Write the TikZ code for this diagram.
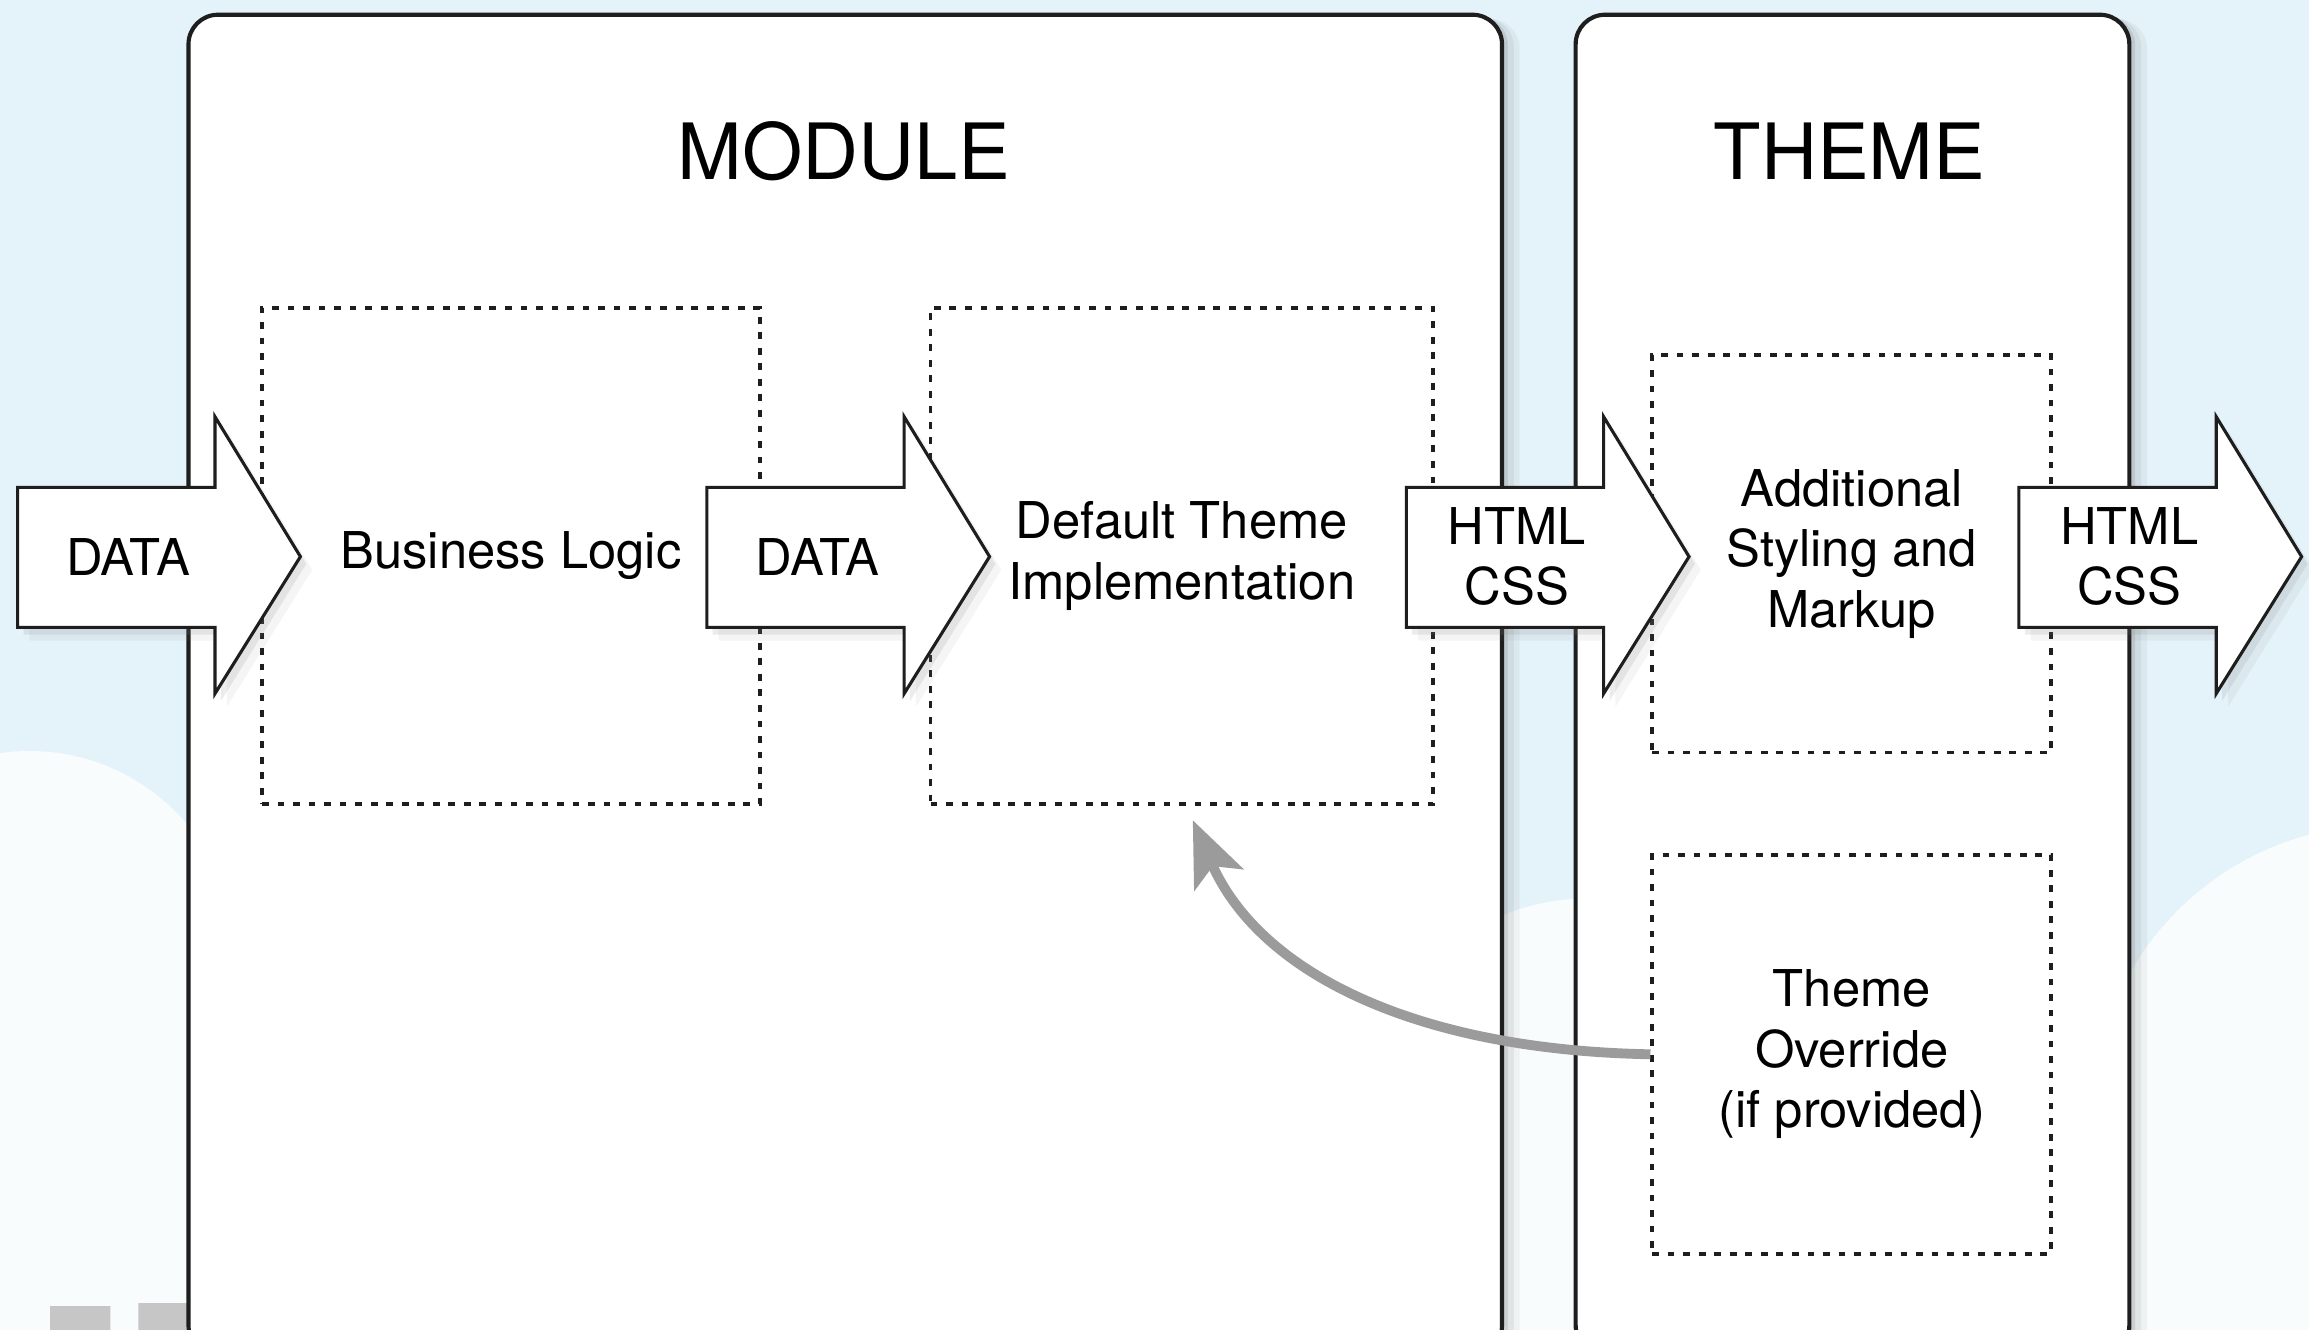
\documentclass[tikz,border=0pt]{standalone}
\usepackage{fontspec}
\setmainfont{TeX Gyre Heros}
\usetikzlibrary{positioning,shadows,arrows.meta}
\definecolor{sky}{RGB}{227,243,249}
\definecolor{cloud}{RGB}{249,252,253}
\definecolor{edge}{RGB}{30,30,30}
\definecolor{curve}{RGB}{155,155,155}
\newcommand{\bodyfont}{\fontsize{9.8}{11.7}\selectfont}
\newcommand{\titlefont}{\fontsize{15}{18}\selectfont}
\tikzset{panel/.style={draw=edge,line width=0.8pt,rounded corners=2mm,fill=white,
    drop shadow={shadow xshift=1.2mm,shadow yshift=-0.3mm,opacity=0.08},
    drop shadow={shadow xshift=0.8mm,shadow yshift=-0.2mm,opacity=0.12},
    drop shadow={shadow xshift=0.4mm,shadow yshift=-0.1mm,opacity=0.2}},
  part box/.style={draw=edge,line width=0.7pt,dash pattern=on 1.3pt off 1.7pt,
    inner sep=0pt,align=center,font=\bodyfont},
  flow arrow/.style={draw=edge,line width=0.6pt,fill=white,line join=miter,
    drop shadow={shadow xshift=0.8mm,shadow yshift=-0.9mm,opacity=0.08},
    drop shadow={shadow xshift=0.4mm,shadow yshift=-0.5mm,opacity=0.15}},
  label text/.style={align=center,font=\bodyfont,inner sep=0pt},
  title text/.style={font=\titlefont,inner sep=0pt},
  override arrow/.style={draw=curve,line width=1.9pt,
    -{Stealth[length=4.4mm,width=3.6mm,inset=1mm]}},
}

\begin{document}
\begin{tikzpicture}[x=0.1mm,y=-0.1mm]
	\clip (0,0) rectangle (1568,903);
	% sky with clouds
	\fill[sky] (0,0) rectangle (1568,903);
	\fill[cloud] (20,650) circle (140) (95,720) circle (115) (0,820) circle (150)
		(1080,770) circle (160) (1620,760) circle (200) (1500,860) circle (140);
	\fill[gray!45] (34,887) rectangle (75,910) (94,885) rectangle (127,910);
	
	\node[panel,minimum width=89.2mm,minimum height=91mm] (module) at (574,465) {};
	\node[panel,minimum width=37.6mm,minimum height=91mm] (theme) at (1258,465) {};
	\node[title text] (moduletitle) at (573,103) {MODULE};
	\node[title text] (themetitle) at (1256,103) {THEME};
	
	\node[part box,minimum width=33.8mm,minimum height=33.7mm] (logic) at (347,377.5) {Business Logic};
	\node[part box,minimum width=34.1mm,minimum height=33.7mm] (default) at (802.5,377.5) {Default Theme\\Implementation};
	\node[part box,minimum width=27.1mm,minimum height=27mm] (styling) at (1257.5,376) {Additional\\Styling and\\Markup};
	\node[part box,minimum width=27.1mm,minimum height=27.1mm,below=6.7mm of styling] (override) {Theme\\Override\\(if provided)};
	
	% block arrows
	\foreach \x/\nm/\txt in {12/data1/DATA, 480/data2/DATA, 955/html1/{HTML\\CSS}, 1371/html2/{HTML\\CSS}} {
		\draw[flow arrow] (\x,331) -- ++(134,0) -- ++(0,-48) -- ++(58,95) -- ++(-58,93) -- ++(0,-45) -- ++(-134,0) -- cycle;
		\node[label text] (\nm) at (\x+75,378) {\txt};
	}
	
	\coordinate (tip) at (810,557);
	\draw[override arrow] (override.west) .. controls (960,713) and (855,660) .. (tip);
\end{tikzpicture}
\end{document}
